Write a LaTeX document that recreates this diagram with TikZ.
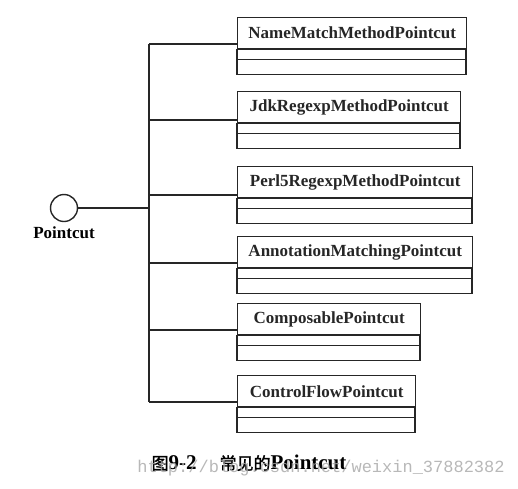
\documentclass[tikz,border=0pt]{standalone}
\usepackage{fontspec}
\setmainfont{Liberation Serif}
\setmonofont{Liberation Mono}
\newfontfamily\cjk{Noto Sans CJK SC}[AutoFakeBold=1.5]

\begin{document}
\begin{tikzpicture}[x=1pt,y=-1pt]
  % Estilos
  \tikzset{
    umlline/.style={line width=1.4pt,black!85},
    classtitle/.style={draw,umlline,rectangle,anchor=north west,minimum height=31pt,
      inner sep=0pt,font=\fontsize{17}{20}\selectfont\bfseries},
    iface/.style={circle,draw,umlline,minimum size=27pt,inner sep=0pt}
  }
  \useasboundingbox (0,0) rectangle (518,488);

  % Interfaz Pointcut
  \node[iface] (pc) at (64,208) {};
  \node[font=\fontsize{17}{20}\selectfont\bfseries] (pclbl) at (64,233) {Pointcut};
  \coordinate (j) at (149,208);
  \draw[umlline] (pc) -- (j);

  % Clases que implementan Pointcut
  \foreach \n/\t/\b/\w/\lbl in {
      c1/17/44/229/NameMatchMethodPointcut,
      c2/91/120/223/JdkRegexpMethodPointcut,
      c3/166/195/235/Perl5RegexpMethodPointcut,
      c4/236/263/235/AnnotationMatchingPointcut,
      c5/303/330/183/ComposablePointcut,
      c6/375/402/178/ControlFlowPointcut}{
    \node[classtitle,minimum width=\w pt] (\n) at (237,\t) {\lbl};
    \draw[umlline] (\n.south west) rectangle ++(\w,25);
    \draw[umlline] ([yshift=-10pt]\n.south west) -- ++(\w,0);
    \coordinate (b\n) at (149,\b);
    \draw[umlline] (b\n) -- (b\n -| \n.west);
  }
  \draw[umlline] (bc1) -- (bc6);

  % Pie de figura
  \node[font=\fontsize{21}{24}\selectfont\bfseries] (cap) at (249,463)
    {{\cjk\fontsize{17}{20}\selectfont 图}9-2\hspace{23pt}{\cjk\fontsize{17}{20}\selectfont 常见的}Pointcut};
  \node[font=\fontsize{17}{20}\selectfont\ttfamily,text=black!35,opacity=0.8] (wm) at (321,468)
    {http://blog.csdn.net/weixin\_37882382};
\end{tikzpicture}
\end{document}
